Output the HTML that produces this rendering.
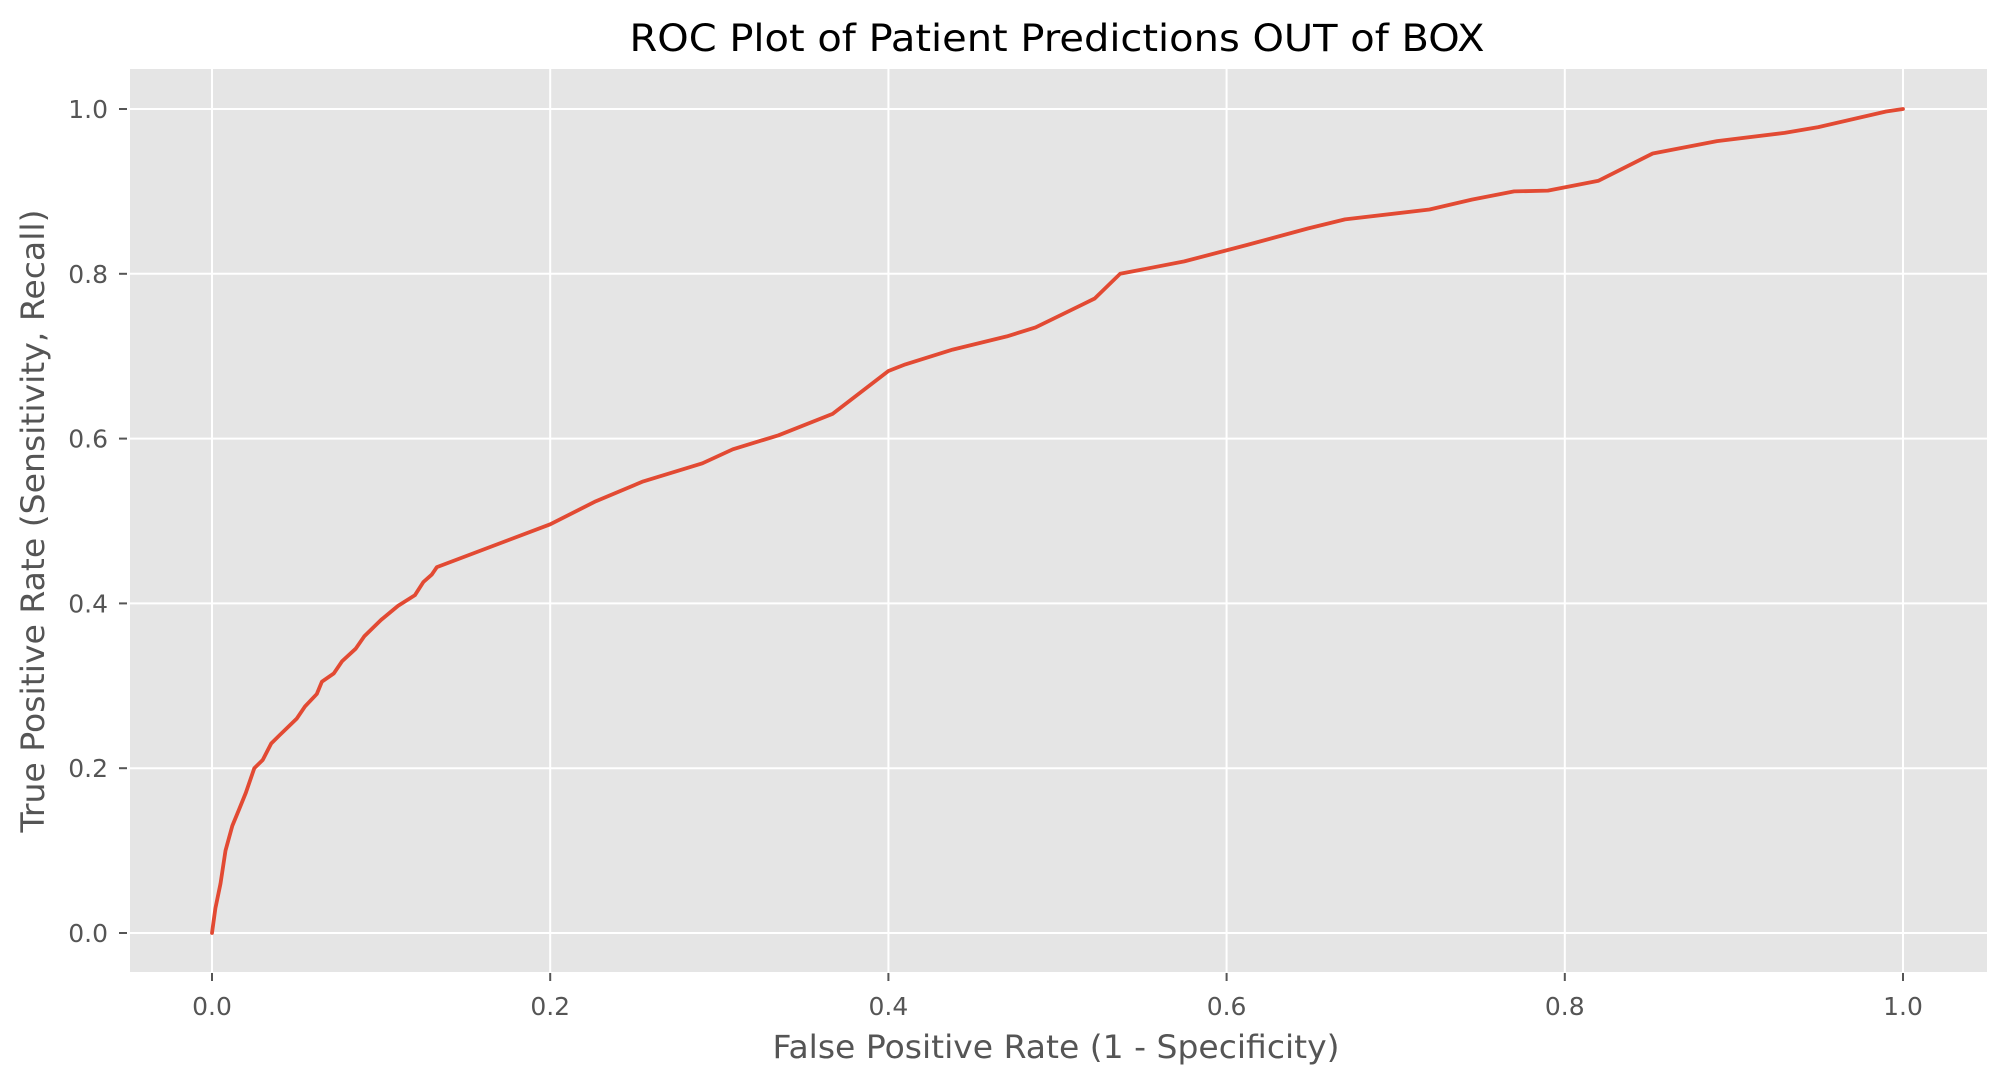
<!DOCTYPE html>
<html><head><meta charset="utf-8"><style>
body{margin:0;background:#fff;}
svg text{font-family:"DejaVu Sans","Liberation Sans",sans-serif;}
</style></head><body>
<svg id="chart" width="2007" height="1085" viewBox="0 0 2007 1085" xmlns="http://www.w3.org/2000/svg">
<rect x="0" y="0" width="2007" height="1085" fill="#fff"/>
<rect x="130" y="69" width="1857" height="903" fill="#e5e5e5"/>
<g id="grid"></g>
<g id="ticks"></g>
<path id="roc" fill="none" stroke="#e24a33" stroke-width="3.8" stroke-linejoin="round" stroke-linecap="round"/>
<text x="1057" y="51" text-anchor="middle" font-size="37" fill="#000" textLength="855" lengthAdjust="spacingAndGlyphs">ROC Plot of Patient Predictions OUT of BOX</text>
<text x="1056" y="1058" text-anchor="middle" font-size="32" fill="#555" textLength="567" lengthAdjust="spacingAndGlyphs">False Positive Rate (1 - Specificity)</text>
<text transform="translate(44,521) rotate(-90)" text-anchor="middle" font-size="32" fill="#555" textLength="623" lengthAdjust="spacingAndGlyphs">True Positive Rate (Sensitivity, Recall)</text>
</svg>
<script>
const fpr=[0,0.002,0.005,0.008,0.012,0.016,0.02,0.025,0.03,0.035,0.04,0.05,0.055,0.062,0.065,0.072,0.077,0.085,0.09,0.1,0.11,0.12,0.125,0.13,0.133,0.2,0.227,0.255,0.29,0.308,0.335,0.367,0.4,0.41,0.438,0.47,0.487,0.515,0.522,0.537,0.575,0.612,0.648,0.67,0.72,0.745,0.77,0.79,0.82,0.852,0.89,0.93,0.95,0.99,1];
const tpr=[0,0.03,0.06,0.10,0.13,0.15,0.17,0.2,0.21,0.23,0.24,0.26,0.275,0.29,0.305,0.315,0.33,0.345,0.36,0.38,0.397,0.41,0.426,0.435,0.444,0.496,0.524,0.548,0.57,0.587,0.604,0.63,0.682,0.69,0.708,0.724,0.735,0.763,0.77,0.8,0.815,0.835,0.855,0.866,0.878,0.89,0.9,0.901,0.913,0.946,0.961,0.971,0.978,0.997,1];
const xTicks=[0,0.2,0.4,0.6,0.8,1.0];
const yTicks=[0,0.2,0.4,0.6,0.8,1.0];
const xTickLabels=["0.0","0.2","0.4","0.6","0.8","1.0"];
const yTickLabels=["0.0","0.2","0.4","0.6","0.8","1.0"];
const NS="http://www.w3.org/2000/svg";
function sx(v){return 212+v*1691;}
function sy(v){return 933-v*824;}
const grid=document.getElementById('grid'),ticks=document.getElementById('ticks');
function mk(tag,attrs,parent){const e=document.createElementNS(NS,tag);for(const k in attrs)e.setAttribute(k,attrs[k]);parent.appendChild(e);return e;}
xTicks.forEach((v,i)=>{
  const g=mk('line',{x1:sx(v),x2:sx(v),y1:69,y2:972,stroke:'#fff','stroke-width':2},grid);
  
  
  const t=mk('line',{x1:sx(v),x2:sx(v),y1:973,y2:981,stroke:'#555','stroke-width':2},ticks);
  
  
  const l=mk('text',{x:sx(v),y:1015,'text-anchor':'middle','font-size':'25',fill:'#555'},ticks);
  
  
  l.textContent=xTickLabels[i];
});
yTicks.forEach((v,i)=>{
  const g=mk('line',{x1:130,x2:1987,y1:sy(v),y2:sy(v),stroke:'#fff','stroke-width':2},grid);
  
  
  const t=mk('line',{x1:119,x2:127,y1:sy(v),y2:sy(v),stroke:'#555','stroke-width':2},ticks);
  
  
  const l=mk('text',{x:108,y:sy(v)+9,'text-anchor':'end','font-size':'25',fill:'#555'},ticks);
  
  
  l.textContent=yTickLabels[i];
});
document.getElementById('roc').setAttribute('d',fpr.map((v,i)=>(i?'L':'M')+sx(v).toFixed(1)+','+sy(tpr[i]).toFixed(1)).join(''));
</script>
</body></html>
